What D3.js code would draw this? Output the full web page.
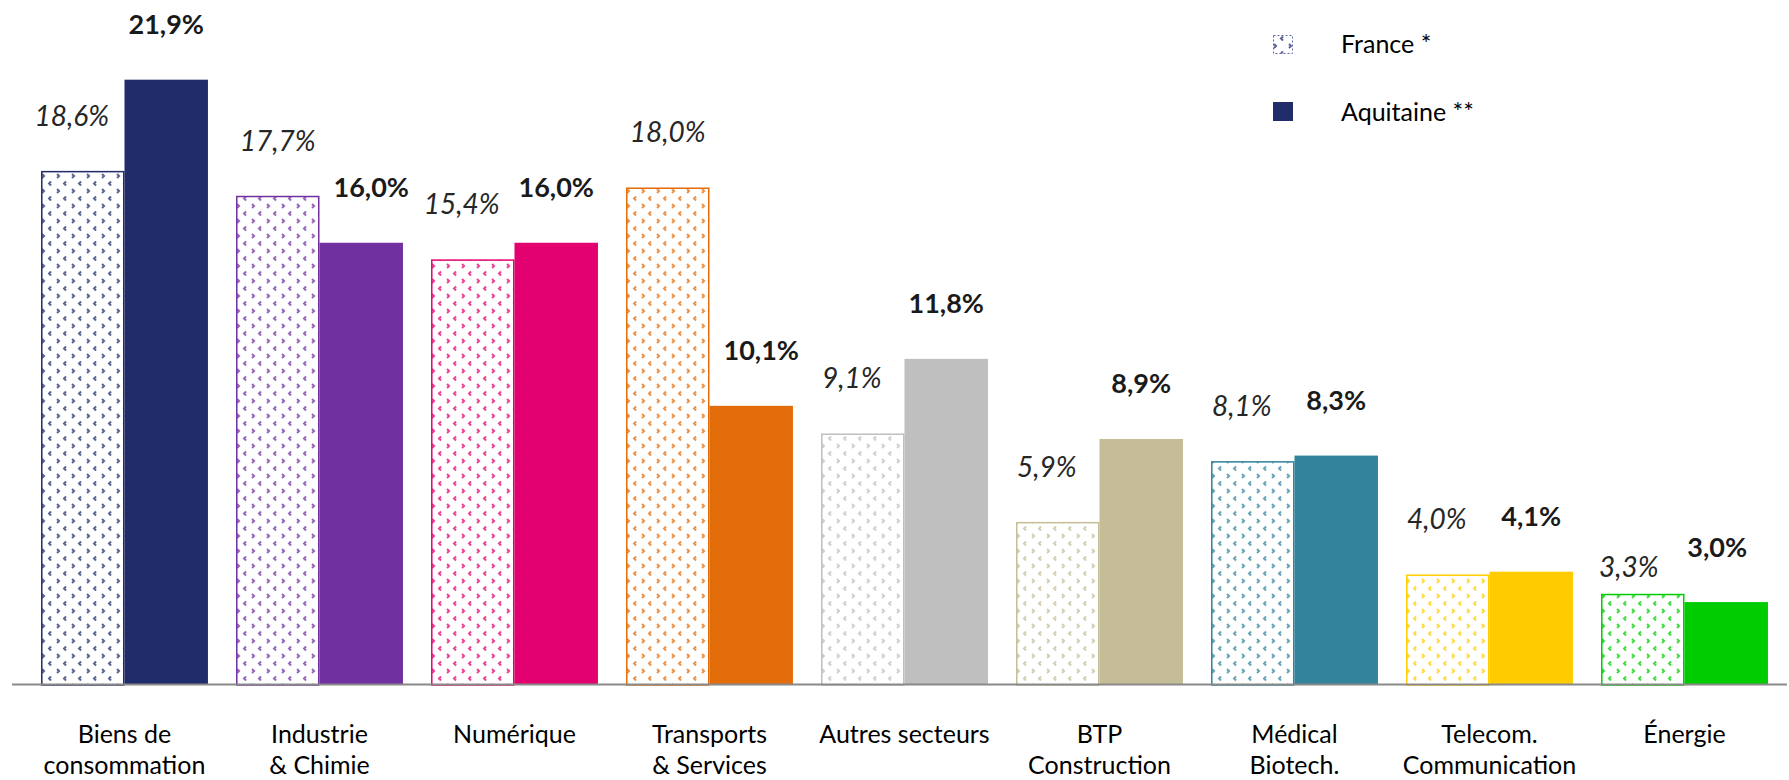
<!DOCTYPE html>
<html>
<head>
<meta charset="utf-8">
<script src="https://cdn.jsdelivr.net/npm/d3@7"></script>
<style>
  body { margin: 0; background: #fff; }
  svg { display: block; font-family: Lato, "Open Sans", sans-serif; }
</style>
</head>
<body>
<svg id="chart" width="1789" height="780"></svg>
<script>
// categories (line breaks in the axis labels)
const categories = [
    ["Biens de", "consommation"],
    ["Industrie", "& Chimie"],
    ["Numérique"],
    ["Transports", "& Services"],
    ["Autres secteurs"],
    ["BTP", "Construction"],
    ["Médical", "Biotech."],
    ["Telecom.", "Communication"],
    ["Énergie"]
];
const france = [18.6, 17.7, 15.4, 18.0, 9.1, 5.9, 8.1, 4.0, 3.3];
const aquitaine = [21.9, 16.0, 16.0, 10.1, 11.8, 8.9, 8.3, 4.1, 3.0];
const colors = ["#212D6B", "#7030A0", "#E3006F", "#E36C0A", "#BFBFBF", "#C4BD97", "#31849B", "#FFCC00", "#00CC00"];
const seriesNames = ["France *", "Aquitaine **"];

const svg = d3.select("#chart");
const names = categories.map(c => c.join(" "));

const x = d3.scaleBand().domain(names).range([27, 1782]).paddingInner(0.144).paddingOuter(0.072);
const xs = d3.scaleBand().domain(["france", "aquitaine"]).range([0, x.bandwidth()]);
const y = d3.scaleLinear().domain([0, 25]).range([685, -6]);

const fmt = v => d3.format(".1f")(v).replace(".", ",") + "%";

// chevron patterns, one per colour
const defs = svg.append("defs");
colors.forEach((c, i) => {
    const p = defs.append("pattern").attr("id", "pat" + i)
        .attr("patternUnits", "userSpaceOnUse").attr("width", 15).attr("height", 15);
    p.append("rect").attr("width", 15).attr("height", 15).attr("fill", "#fff");
    const g = p.append("g").attr("fill", "none").attr("stroke", c).attr("stroke-width", 2).attr("opacity", 0.75);
    // "<" rows
    g.append("path").attr("d", "M10,1.5 L8,3.5 L10,5.5");
    // ">" rows
    [0, 15].forEach(ox => g.append("path").attr("d", `M${ox + 1},9 L${ox + 3},11 L${ox + 1},13`));
});

const groups = svg.append("g").selectAll("g").data(names).join("g")
    .attr("transform", d => `translate(${x(d)},0)`);

// France: patterned bars with outline
groups.append("rect")
    .attr("x", xs("france") + 0.75).attr("width", xs.bandwidth() - 1.5)
    .attr("y", (d, i) => y(france[i]) + 0.75).attr("height", (d, i) => y(0) - y(france[i]) - 0.75)
    .attr("fill", (d, i) => `url(#pat${i})`)
    .attr("stroke", (d, i) => colors[i]).attr("stroke-width", 1.5);

// Aquitaine: solid bars
groups.append("rect")
    .attr("x", xs("aquitaine")).attr("width", xs.bandwidth())
    .attr("y", (d, i) => y(aquitaine[i])).attr("height", (d, i) => y(0) - y(aquitaine[i]))
    .attr("fill", (d, i) => colors[i]);

// value labels: the lower one of each pair is nudged outward
const lift = 55;
groups.each(function(d, i) {
    const g = d3.select(this);
    let fy = y(france[i]) - lift, ay = y(aquitaine[i]) - lift;
    let fdx = 0, adx = 0;
    if (fy > ay) fdx = -11; else adx = 10;
    if (i === categories.length - 1) { fy += 28; fdx = -14; adx = -9; }
    g.append("text")
        .attr("x", xs("france") + xs.bandwidth() / 2 + fdx).attr("y", fy)
        .attr("dy", "0.35em").attr("text-anchor", "middle")
        .attr("font-size", 28).attr("font-style", "italic").attr("fill", "#262626")
        .text(fmt(france[i]));
    g.append("text")
        .attr("x", xs("aquitaine") + xs.bandwidth() / 2 + adx).attr("y", ay)
        .attr("dy", "0.35em").attr("text-anchor", "middle")
        .attr("font-size", 27).attr("font-weight", "bold").attr("fill", "#1a1a1a")
        .text(fmt(aquitaine[i]));
});

// baseline
svg.append("line").attr("x1", 12).attr("x2", 1787).attr("y1", y(0) - 0.5).attr("y2", y(0) - 0.5)
    .attr("stroke", "#898989").attr("stroke-width", 2);

// category labels
groups.append("text")
    .attr("x", x.bandwidth() / 2).attr("y", 734)
    .attr("text-anchor", "middle").attr("font-size", 25).attr("fill", "#000")
    .selectAll("tspan").data((d, i) => categories[i]).join("tspan")
    .attr("x", x.bandwidth() / 2).attr("dy", (d, j) => j === 0 ? "0.35em" : 31)
    .text(d => d);

// legend
const legend = svg.append("g").attr("transform", "translate(1273,35)");
legend.append("rect").attr("x", 0.5).attr("y", 0.5).attr("width", 19).attr("height", 18)
    .attr("fill", "url(#pat0)").attr("stroke", "#5a6aa8").attr("stroke-width", 1).attr("stroke-dasharray", "2,2");
legend.append("rect").attr("x", 0).attr("y", 67).attr("width", 20).attr("height", 19).attr("fill", colors[0]);
legend.selectAll("text.lg").data(seriesNames).join("text").attr("class", "lg")
    .attr("x", 68).attr("y", (d, i) => 9 + i * 68).attr("dy", "0.35em")
    .attr("font-size", 25).attr("fill", "#000").text(d => d);
</script>
</body>
</html>
